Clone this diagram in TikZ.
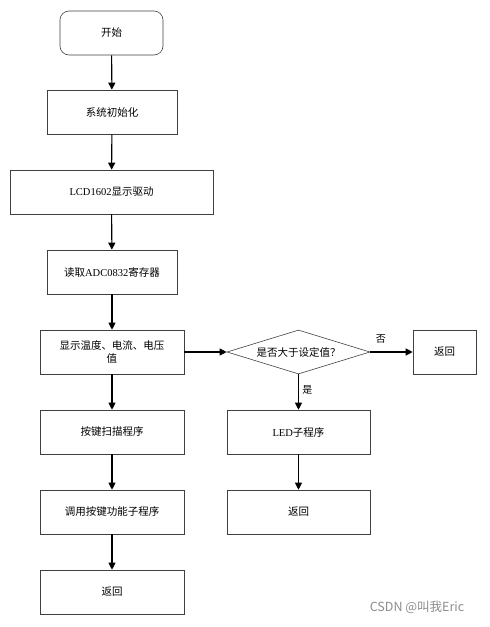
\documentclass[tikz,border=0pt]{standalone}
\usepackage{fontspec}
\setmainfont{Liberation Serif}
\newfontfamily\cjk{Noto Sans CJK SC}
\usetikzlibrary{arrows.meta,shapes.geometric}
\tikzset{
  box/.style={draw=black!75, line width=0.6pt, minimum height=44pt, inner sep=2pt, font=\fontsize{10.5}{13}\selectfont},
  arr/.style={line width=1.1pt, -{Triangle[length=7pt,width=7pt]}},
  lbl/.style={font=\cjk\fontsize{10}{12}\selectfont}
}
\begin{document}
\begin{tikzpicture}[x=1pt,y=-1pt]
\useasboundingbox (0,0) rectangle (490,627);
\node[box, rounded corners=9pt, minimum width=103pt] (start) at (111.5,33) {\cjk 开始};
\node[box, minimum width=130pt] (init) at (112,112) {\cjk 系统初始化};
\node[box, minimum width=203pt] (lcd) at (111.5,192) {LCD1602{\cjk 显示驱动}};
\node[box, minimum width=130pt] (adc) at (112,272) {{\cjk 读取}ADC0832{\cjk 寄存器}};
\node[box, minimum width=144pt, align=center] (disp) at (112,352) {\cjk 显示温度、电流、电压\\\cjk 值};
\node[box, minimum width=144pt] (key) at (112,432) {\cjk 按键扫描程序};
\node[box, minimum width=144pt] (call) at (112,512) {\cjk 调用按键功能子程序};
\node[box, minimum width=144pt] (ret1) at (112,592) {\cjk 返回};
\node[draw=black!75, line width=0.6pt, diamond, aspect=3.3, minimum width=143pt, minimum height=44pt, inner sep=0pt, font=\cjk\fontsize{10.5}{13}\selectfont] (dec) at (298.5,352) {是否大于设定值？};
\node[box, minimum width=63pt] (ret2) at (444.5,352) {\cjk 返回};
\node[box, minimum width=143pt] (led) at (298.5,432) {LED{\cjk 子程序}};
\node[box, minimum width=143pt] (ret3) at (298.5,512) {\cjk 返回};
\draw[arr] (start) -- (init);
\draw[arr] (init) -- (lcd);
\draw[arr] (lcd) -- (adc);
\draw[arr] (adc) -- (disp);
\draw[arr] (disp) -- (key);
\draw[arr] (key) -- (call);
\draw[arr] (call) -- (ret1);
\draw[arr] (disp) -- (dec);
\draw[arr] (dec) -- node[lbl, above, pos=0.25, yshift=5pt] (no) {否} (ret2);
\draw[arr] (dec) -- node[lbl, right, pos=0.45] (yes) {是} (led);
\draw[arr] (led) -- (ret3);
\node[font=\cjk\fontsize{12.5}{14}\selectfont, text=black!45] (wm) at (417,607) {CSDN @叫我Eric};
\end{tikzpicture}
\end{document}
